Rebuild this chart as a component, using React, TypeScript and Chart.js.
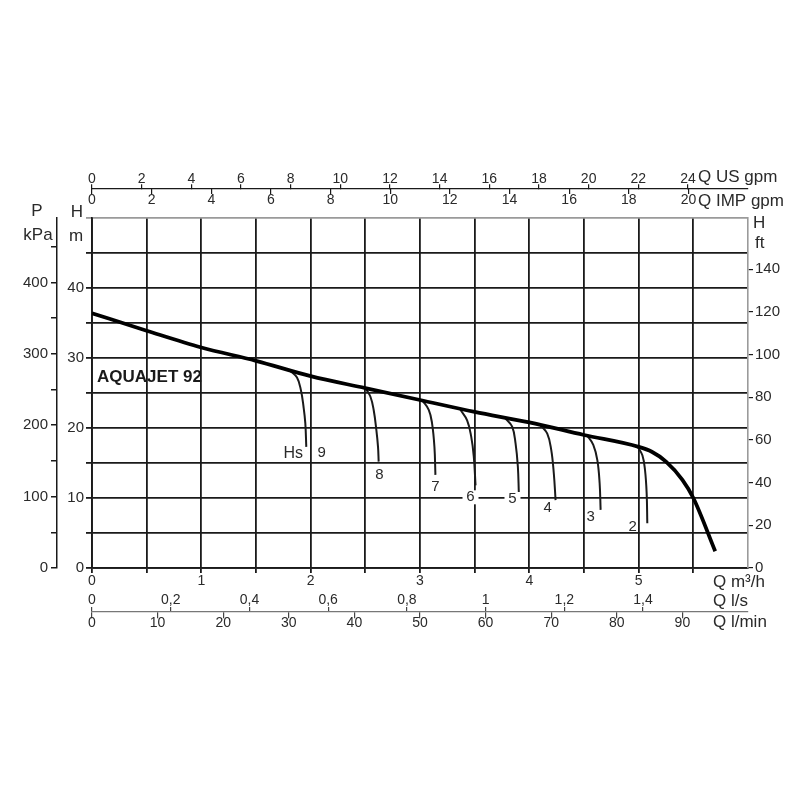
import React, { useEffect, useRef } from 'react';
import { Chart, registerables } from 'chart.js';

Chart.register(...registerables);

const FONT = "'Liberation Sans', Arial, Helvetica, sans-serif";
const INK = '#1a1a1a';
const TEXT = '#2a2a2a';
const GREY = '#9a9a9a';

// unit conversions (per m³/h and per m)
const US_GPM_PER_M3H = 4.40287;
const IMP_GPM_PER_M3H = 3.66614;
const LS_PER_M3H = 1 / 3.6;
const LMIN_PER_M3H = 1000 / 60;
const KPA_PER_M = 9.80665;
const FT_PER_M = 3.28084;

const Q_MAX = 6; // m³/h
const H_MAX = 50; // m

// ---- main pump curve (Q m³/h, H m)
const mainQ = [0, 0.5, 1, 1.5, 2, 2.5, 3, 3.5, 4, 4.5, 5, 5.12, 5.25, 5.4, 5.5, 5.7];
const mainH = [36.4, 33.9, 31.5, 29.6, 27.4, 25.7, 24.0, 22.3, 20.8, 19.0, 17.3, 16.6, 15.2, 12.6, 10.0, 2.4];

// ---- suction-lift branches (Hs = 9 ... 2 m)
const hs9Q = [1.81, 1.875, 1.911, 1.935, 1.951, 1.96];
const hs9H = [28.2, 27.2, 25.4, 23.0, 20.7, 17.3];
const hs8Q = [2.5, 2.546, 2.576, 2.601, 2.616, 2.622];
const hs8H = [25.7, 24.5, 22.6, 19.7, 17.3, 15.2];
const hs7Q = [3.02, 3.08, 3.11, 3.132, 3.141];
const hs7H = [23.95, 22.6, 20.7, 17.3, 13.3];
const hs6Q = [3.37, 3.431, 3.468, 3.492, 3.508];
const hs6H = [22.6, 21.1, 18.8, 15.9, 11.8];
const hs5Q = [3.78, 3.843, 3.874, 3.895, 3.904];
const hs5H = [21.4, 20.2, 17.8, 14.5, 10.7];
const hs4Q = [4.1, 4.164, 4.2, 4.224, 4.24];
const hs4H = [20.45, 19.2, 16.9, 13.5, 9.7];
const hs3Q = [4.53, 4.585, 4.622, 4.643, 4.652];
const hs3H = [18.9, 17.6, 15.4, 12.1, 8.3];
const hs2Q = [4.99, 5.034, 5.058, 5.073, 5.079];
const hs2H = [17.35, 16.1, 14.0, 10.7, 6.4];

// ---- curve labels (text, anchor Q, anchor H)
const curveLabels = ['Hs', '9', '8', '7', '6', '5', '4', '3', '2'];
const curveLabelQ = [1.84, 2.1, 2.628, 3.141, 3.462, 3.846, 4.167, 4.56, 4.945];
const curveLabelH = [16.4, 16.4, 13.3, 11.6, 10.1, 9.86, 8.57, 7.3, 5.9];
const boxedLabels = ['6', '5'];
const modelName = 'AQUAJET 92';

// ---- tick values and labels
const qTicks = [0, 0.5, 1, 1.5, 2, 2.5, 3, 3.5, 4, 4.5, 5, 5.5, 6];
const qLabels = ['0', '', '1', '', '2', '', '3', '', '4', '', '5', '', ''];
const hTicks = [0, 5, 10, 15, 20, 25, 30, 35, 40, 45, 50];
const hLabels = ['0', '', '10', '', '20', '', '30', '', '40', '', ''];
const kpaTicks = [0, 50, 100, 150, 200, 250, 300, 350, 400, 450];
const kpaLabels = ['0', '', '100', '', '200', '', '300', '', '400', ''];
const ftTicks = [0, 20, 40, 60, 80, 100, 120, 140];
const ftLabels = ['0', '20', '40', '60', '80', '100', '120', '140'];
const usTicks = [0, 2, 4, 6, 8, 10, 12, 14, 16, 18, 20, 22, 24];
const usLabels = ['0', '2', '4', '6', '8', '10', '12', '14', '16', '18', '20', '22', '24'];
const impTicks = [0, 2, 4, 6, 8, 10, 12, 14, 16, 18, 20];
const impLabels = ['0', '2', '4', '6', '8', '10', '12', '14', '16', '18', '20'];
const lsTicks = [0, 0.2, 0.4, 0.6, 0.8, 1, 1.2, 1.4];
const lsLabels = ['0', '0,2', '0,4', '0,6', '0,8', '1', '1,2', '1,4'];
const lminTicks = [0, 10, 20, 30, 40, 50, 60, 70, 80, 90];
const lminLabels = ['0', '10', '20', '30', '40', '50', '60', '70', '80', '90'];

// positions of the detached axes, expressed on the H (m) scale
const TOP_AXIS_AT = H_MAX + 29 / 7;
const BOTTOM_AXIS_AT = -44 / 7;

const pts = (q: number[], h: number[]) => q.map((v, i) => ({ x: v, y: h[i] }));
const setTicks = (vals: number[]) => (s: any) => {
  s.ticks = vals.map((v) => ({ value: v }));
};
const xTickFont = { family: FONT, size: 14 };
const yTickFont = { family: FONT, size: 15 };
const GRID_W = 1.8;

const branch = (q: number[], h: number[]) => ({
  data: pts(q, h),
  showLine: true,
  borderColor: INK,
  borderWidth: 2,
  pointRadius: 0,
  tension: 0.4,
  xAxisID: 'x',
  yAxisID: 'y',
});

const textPlugin = {
  id: 'texts',
  afterDraw(chart: any) {
    const { ctx, chartArea: a, scales } = chart;
    const sx = scales.x;
    const sy = scales.y;
    ctx.save();
    ctx.fillStyle = TEXT;
    ctx.textBaseline = 'middle';

    // axis titles
    ctx.font = `17px ${FONT}`;
    ctx.textAlign = 'center';
    const kx = scales.yKPA.right;
    ctx.fillText('P', kx - 20, a.top - 7);
    ctx.fillText('kPa', kx - 19, a.top + 17);
    ctx.fillText('H', a.left - 15, a.top - 6);
    ctx.fillText('m', a.left - 16, a.top + 18);
    ctx.textAlign = 'left';
    ctx.fillText('H', a.right + 5, a.top + 5);
    ctx.fillText('ft', a.right + 7, a.top + 25);
    const topY = sy.getPixelForValue(TOP_AXIS_AT);
    ctx.fillText('Q US gpm', a.right - 50, topY - 12);
    ctx.fillText('Q IMP gpm', a.right - 50, topY + 12);
    const botY = sy.getPixelForValue(BOTTOM_AXIS_AT);
    ctx.fillText('Q m\u00b3/h', a.right - 35, a.bottom + 14);
    ctx.fillText('Q l/s', a.right - 35, botY - 11);
    ctx.fillText('Q l/min', a.right - 35, botY + 10);

    // model name
    ctx.font = `bold 17px ${FONT}`;
    ctx.fillStyle = INK;
    ctx.fillText(modelName, sx.getPixelForValue(0.046), sy.getPixelForValue(27.3));

    // curve labels
    ctx.textAlign = 'center';
    curveLabels.forEach((lab, i) => {
      const px = sx.getPixelForValue(curveLabelQ[i]);
      const py = sy.getPixelForValue(curveLabelH[i]);
      ctx.font = lab === 'Hs' ? `16px ${FONT}` : `15px ${FONT}`;
      if (boxedLabels.includes(lab)) {
        ctx.fillStyle = '#fff';
        ctx.fillRect(px - 8, py - 7, 16, 14);
      }
      ctx.fillStyle = TEXT;
      ctx.fillText(lab, px, py);
    });
    ctx.restore();
  },
};

export default function App() {
  const ref = useRef<HTMLCanvasElement>(null);
  useEffect(() => {
    if (!ref.current) return;
    const chart = new Chart(ref.current, {
      type: 'scatter',
      data: {
        datasets: [
          {
            data: pts(mainQ, mainH),
            showLine: true,
            borderColor: '#000',
            borderWidth: 3.8,
            pointRadius: 0,
            cubicInterpolationMode: 'monotone',
            xAxisID: 'x',
            yAxisID: 'y',
          },
          branch(hs9Q, hs9H),
          branch(hs8Q, hs8H),
          branch(hs7Q, hs7H),
          branch(hs6Q, hs6H),
          branch(hs5Q, hs5H),
          branch(hs4Q, hs4H),
          branch(hs3Q, hs3H),
          branch(hs2Q, hs2H),
        ],
      } as any,
      options: {
        animation: false,
        responsive: false,
        devicePixelRatio: 1,
        events: [],
        layout: { padding: { left: 0, right: 0, top: 218, bottom: 212 } },
        plugins: { legend: { display: false }, tooltip: { enabled: false } },
        scales: {
          x: {
            type: 'linear',
            axis: 'x',
            position: 'bottom',
            min: 0,
            max: Q_MAX,
            afterBuildTicks: setTicks(qTicks),
            afterFit: (s: any) => {
              s.height = 20;
            },
            grid: {
              color: (c: any) => (c.tick && c.tick.value >= Q_MAX ? 'rgba(0,0,0,0)' : INK),
              lineWidth: GRID_W,
              tickLength: 5,
            },
            border: { display: true, color: INK, width: GRID_W },
            ticks: {
              autoSkip: false,
              maxRotation: 0,
              padding: 0,
              color: TEXT,
              font: xTickFont,
              callback: (_v: any, i: number) => qLabels[i],
            },
          },
          y: {
            type: 'linear',
            axis: 'y',
            position: 'left',
            min: 0,
            max: H_MAX,
            afterBuildTicks: setTicks(hTicks),
            afterFit: (s: any) => {
              s.width = 35;
            },
            grid: {
              color: (c: any) => (c.tick && c.tick.value >= H_MAX ? GREY : INK),
              lineWidth: GRID_W,
              tickLength: 6,
            },
            border: { display: true, color: INK, width: GRID_W },
            ticks: {
              autoSkip: false,
              padding: 2,
              color: TEXT,
              font: yTickFont,
              callback: (_v: any, i: number) => hLabels[i],
            },
          },
          yKPA: {
            type: 'linear',
            axis: 'y',
            position: 'left',
            weight: 1,
            min: 0,
            max: H_MAX * KPA_PER_M,
            afterBuildTicks: setTicks(kpaTicks),
            afterFit: (s: any) => {
              s.width = 57;
            },
            grid: { drawOnChartArea: false, color: INK, lineWidth: 1.5, tickLength: 6 },
            border: { display: true, color: INK, width: 1.5 },
            ticks: {
              autoSkip: false,
              padding: 3,
              color: TEXT,
              font: yTickFont,
              callback: (_v: any, i: number) => kpaLabels[i],
            },
          },
          yFT: {
            type: 'linear',
            axis: 'y',
            position: 'right',
            min: 0,
            max: H_MAX * FT_PER_M,
            afterBuildTicks: setTicks(ftTicks),
            afterFit: (s: any) => {
              s.width = 52;
            },
            grid: { drawOnChartArea: false, color: INK, lineWidth: 1.2, tickLength: 5 },
            border: { display: true, color: GREY, width: 1.6 },
            ticks: {
              autoSkip: false,
              padding: 2,
              color: TEXT,
              font: yTickFont,
              callback: (_v: any, i: number) => ftLabels[i],
            },
          },
          xUS: {
            type: 'linear',
            axis: 'x',
            position: { y: TOP_AXIS_AT },
            min: 0,
            max: Q_MAX * US_GPM_PER_M3H,
            afterBuildTicks: setTicks(usTicks),
            grid: { drawOnChartArea: false, color: INK, lineWidth: 1.2, tickLength: -5 },
            border: { display: true, color: INK, width: 1.3 },
            ticks: {
              autoSkip: false,
              maxRotation: 0,
              padding: -13.4,
              color: TEXT,
              font: xTickFont,
              callback: (_v: any, i: number) => usLabels[i],
            },
          },
          xIMP: {
            type: 'linear',
            axis: 'x',
            position: { y: TOP_AXIS_AT },
            min: 0,
            max: Q_MAX * IMP_GPM_PER_M3H,
            afterBuildTicks: setTicks(impTicks),
            grid: { drawOnChartArea: false, color: INK, lineWidth: 1.2, tickLength: 5 },
            border: { display: false },
            ticks: {
              autoSkip: false,
              maxRotation: 0,
              padding: -1.9,
              color: TEXT,
              font: xTickFont,
              callback: (_v: any, i: number) => impLabels[i],
            },
          },
          xLS: {
            type: 'linear',
            axis: 'x',
            position: { y: BOTTOM_AXIS_AT },
            min: 0,
            max: Q_MAX * LS_PER_M3H,
            afterBuildTicks: setTicks(lsTicks),
            grid: { drawOnChartArea: false, color: '#444', lineWidth: 1.2, tickLength: -5 },
            border: { display: false },
            ticks: {
              autoSkip: false,
              maxRotation: 0,
              padding: -15.4,
              color: TEXT,
              font: xTickFont,
              callback: (_v: any, i: number) => lsLabels[i],
            },
          },
          xLMIN: {
            type: 'linear',
            axis: 'x',
            position: { y: BOTTOM_AXIS_AT },
            min: 0,
            max: Q_MAX * LMIN_PER_M3H,
            afterBuildTicks: setTicks(lminTicks),
            grid: { drawOnChartArea: false, color: '#444', lineWidth: 1.2, tickLength: 6 },
            border: { display: true, color: '#777', width: 1.3 },
            ticks: {
              autoSkip: false,
              maxRotation: 0,
              padding: -3.4,
              color: TEXT,
              font: xTickFont,
              callback: (_v: any, i: number) => lminLabels[i],
            },
          },
        },
      } as any,
      plugins: [textPlugin],
    });
    return () => chart.destroy();
  }, []);

  return (
    <div style={{ position: 'absolute', left: 0, top: 0, width: 800, height: 800, background: '#fff' }}>
      <canvas ref={ref} width={800} height={800} style={{ display: 'block' }} />
    </div>
  );
}
